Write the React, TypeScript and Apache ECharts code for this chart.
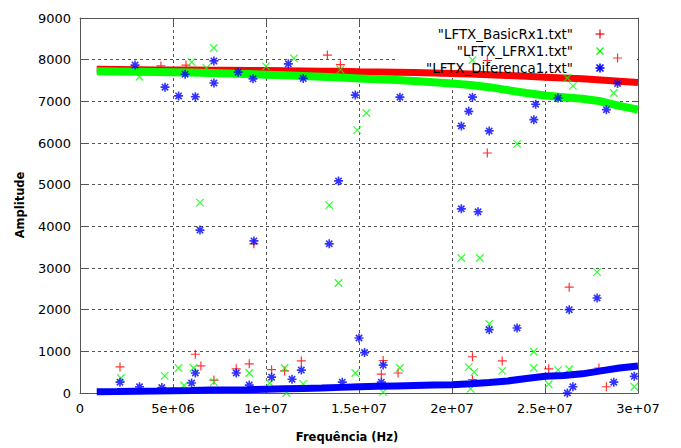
import React, { useEffect, useRef } from "react";
import * as echarts from "echarts";

// ---- data ----
const bandFreqs = [
  0.9e6, 2e6, 3e6, 4e6, 5e6, 6e6, 7e6, 8e6, 9e6, 10e6,
  11e6, 12e6, 13e6, 14e6, 15e6, 16e6, 17e6, 18e6, 19e6, 20e6,
  21e6, 22e6, 23e6, 24e6, 25e6, 26e6, 27e6, 28e6, 29e6, 30e6,
];
const redBand = [
  7770, 7765, 7760, 7755, 7750, 7750, 7745, 7745, 7740, 7740,
  7735, 7730, 7725, 7720, 7710, 7705, 7700, 7690, 7680, 7670,
  7655, 7640, 7620, 7600, 7580, 7560, 7540, 7510, 7480, 7450,
];
const greenBand = [
  7720, 7715, 7710, 7705, 7700, 7690, 7680, 7670, 7655, 7640,
  7625, 7610, 7590, 7570, 7550, 7530, 7510, 7490, 7460, 7430,
  7390, 7340, 7270, 7200, 7140, 7100, 7060, 7000, 6890, 6800,
];
const blueBand = [
  30, 35, 40, 45, 55, 60, 70, 75, 80, 90,
  100, 110, 120, 135, 150, 160, 170, 180, 190, 200,
  220, 250, 290, 350, 400, 420, 460, 530, 600, 650,
];

const redOutliers = [
  [2.15e6, 625], [4.35e6, 7850], [5.7e6, 7870], [6.2e6, 930], [6.5e6, 650],
  [7.2e6, 310], [8.4e6, 580], [9.1e6, 700], [9.35e6, 3580], [1.03e7, 560],
  [1.1e7, 530], [1.19e7, 770], [1.33e7, 8110], [1.4e7, 7880], [1.62e7, 455],
  [1.63e7, 780], [1.71e7, 480], [2.11e7, 870], [2.11e7, 320], [2.19e7, 7980],
  [2.19e7, 5760], [2.27e7, 770], [2.52e7, 580], [2.63e7, 2540], [2.79e7, 600],
  [2.83e7, 150], [2.89e7, 8040],
];
const greenOutliers = [
  [2.2e6, 360], [3.2e6, 7590], [4.55e6, 410], [5.3e6, 600], [5.6e6, 180],
  [6.0e6, 7940], [6.1e6, 600], [6.45e6, 4570], [6.8e6, 7800], [7.2e6, 8280],
  [7.2e6, 260], [9.1e6, 480], [1.0e7, 7840], [1.02e7, 240], [1.1e7, 600],
  [1.11e7, 0], [1.15e7, 8030], [1.2e7, 220], [1.34e7, 4510], [1.39e7, 2640],
  [1.4e7, 7760], [1.48e7, 480], [1.49e7, 6310], [1.54e7, 6720], [1.63e7, 20],
  [1.72e7, 600], [2.05e7, 3240], [2.09e7, 620], [2.1e7, 100], [2.11e7, 7990],
  [2.12e7, 500], [2.15e7, 3240], [2.2e7, 1660], [2.27e7, 530], [2.35e7, 5980],
  [2.44e7, 990], [2.44e7, 600], [2.52e7, 210], [2.57e7, 550], [2.62e7, 7560],
  [2.63e7, 570], [2.65e7, 7370], [2.78e7, 2900], [2.87e7, 7200], [2.98e7, 150],
];
const blueOutliers = [
  [2.15e6, 260], [2.96e6, 7870], [3.2e6, 150], [4.4e6, 130], [4.57e6, 7340],
  [5.3e6, 7130], [5.65e6, 7650], [6.0e6, 240], [6.2e6, 480], [6.2e6, 7110],
  [6.45e6, 3910], [7.2e6, 7970], [7.2e6, 7440], [8.4e6, 480], [8.5e6, 7700],
  [9.1e6, 190], [9.3e6, 7540], [9.35e6, 3650], [1.03e7, 380], [1.12e7, 7900],
  [1.14e7, 330], [1.19e7, 550], [1.2e7, 7550], [1.34e7, 3580], [1.39e7, 5090],
  [1.41e7, 260], [1.48e7, 7150], [1.5e7, 1320], [1.53e7, 970], [1.62e7, 260],
  [1.63e7, 670], [1.72e7, 7100], [2.05e7, 6410], [2.05e7, 4420], [2.09e7, 6760],
  [2.11e7, 7100], [2.14e7, 4350], [2.2e7, 6290], [2.2e7, 1520], [2.35e7, 1560],
  [2.44e7, 6560], [2.45e7, 6930], [2.57e7, 7080], [2.62e7, 0], [2.63e7, 2000],
  [2.65e7, 150], [2.78e7, 2280], [2.83e7, 6800], [2.87e7, 260], [2.89e7, 7430],
  [2.98e7, 400],
];

const xTickLabels = ["0", "5e+06", "1e+07", "1.5e+07", "2e+07", "2.5e+07", "3e+07"];
const yTickLabels = ["0", "1000", "2000", "3000", "4000", "5000", "6000", "7000", "8000", "9000"];
const seriesNames = ['"LFTX_BasicRx1.txt"', '"LFTX_LFRX1.txt"', '"LFTX_Diferenca1.txt"'];

// ---- styling ----
const RED = "#ff0000";
const GREEN = "#00ff00";
const BLUE = "#0000ff";
const FONT = "DejaVu Sans";
const plusPath = "path://M0,5L10,5M5,0L5,10";
const crossPath = "path://M0,0L10,10M10,0L0,10";
const starPath = "path://M0,5L10,5M5,0L5,10M1.5,1.5L8.5,8.5M8.5,1.5L1.5,8.5";

const zip = (xs: number[], ys: number[]) => xs.map((x, i) => [x, ys[i]]);

function markerGraphic(kind: string, cx: number, cy: number, color: string) {
  const h = 4.5;
  const d = 3.5;
  const lines: number[][] = [];
  if (kind === "plus" || kind === "star") {
    lines.push([cx - h, cy, cx + h, cy], [cx, cy - h, cx, cy + h]);
  }
  if (kind === "cross" || kind === "star") {
    lines.push([cx - d, cy - d, cx + d, cy + d], [cx + d, cy - d, cx - d, cy + d]);
  }
  return {
    type: "group",
    z: 10,
    children: lines.map((l) => ({
      type: "line",
      z: 10,
      shape: { x1: l[0], y1: l[1], x2: l[2], y2: l[3] },
      style: { stroke: color, lineWidth: kind === "star" ? 1.6 : 1.2 },
    })),
  };
}

function legendText(text: string, y: number) {
  return {
    type: "text",
    z: 10,
    x: 573,
    y,
    style: {
      text,
      fill: "#000",
      font: `13.4px "${FONT}"`,
      fontSize: 13.4,
      fontFamily: FONT,
      textAlign: "right",
      textVerticalAlign: "middle",
      align: "right",
      verticalAlign: "middle",
    },
  };
}

export default function App() {
  const ref = useRef<HTMLDivElement>(null);

  useEffect(() => {
    if (!ref.current) return;
    const chart = echarts.init(ref.current, undefined, { renderer: "svg" });
    const axisColor = "#555";
    const gridLine = { show: true, lineStyle: { color: "#555", width: 1, type: [3, 3] as any } };

    const option: any = {
      animation: false,
      backgroundColor: "#fff",
      grid: { left: 80, right: 43, top: 18, bottom: 55, containLabel: false },
      xAxis: [
        {
          type: "value",
          position: "bottom",
          min: 0,
          max: 3e7,
          interval: 5e6,
          axisLine: { show: true, onZero: false, lineStyle: { color: axisColor } },
          axisTick: { show: true, inside: true, length: 6, lineStyle: { color: axisColor } },
          axisLabel: {
            color: "#000",
            fontFamily: FONT,
            fontSize: 13,
            margin: 9,
            formatter: (v: number) => xTickLabels[Math.round(v / 5e6)] ?? "",
          },
          splitLine: gridLine,
        },
        {
          type: "value",
          position: "top",
          min: 0,
          max: 3e7,
          interval: 5e6,
          axisLine: { show: true, onZero: false, lineStyle: { color: axisColor } },
          axisTick: { show: true, inside: true, length: 6, lineStyle: { color: axisColor } },
          axisLabel: { show: false },
          splitLine: { show: false },
        },
      ],
      yAxis: [
        {
          type: "value",
          position: "left",
          min: 0,
          max: 9000,
          interval: 1000,
          axisLine: { show: true, onZero: false, lineStyle: { color: axisColor } },
          axisTick: { show: true, inside: true, length: 6, lineStyle: { color: axisColor } },
          axisLabel: {
            color: "#000",
            fontFamily: FONT,
            fontSize: 13,
            margin: 9,
            formatter: (v: number) => yTickLabels[Math.round(v / 1000)] ?? "",
          },
          splitLine: gridLine,
        },
        {
          type: "value",
          position: "right",
          min: 0,
          max: 9000,
          interval: 1000,
          axisLine: { show: true, onZero: false, lineStyle: { color: axisColor } },
          axisTick: { show: true, inside: true, length: 6, lineStyle: { color: axisColor } },
          axisLabel: { show: false },
          splitLine: { show: false },
        },
      ],
      graphic: [
        // key area clears the grid lines
        { type: "rect", z: 1, shape: { x: 398, y: 19, width: 239, height: 50 }, style: { fill: "#fff" } },
        legendText(seriesNames[0], 34),
        legendText(seriesNames[1], 51),
        legendText(seriesNames[2], 68),
        markerGraphic("plus", 600, 34, RED),
        markerGraphic("cross", 600, 51, GREEN),
        markerGraphic("star", 600, 68, BLUE),
        {
          type: "text",
          z: 10,
          x: 347,
          y: 437,
          style: {
            text: "Frequência (Hz)",
            fill: "#000",
            font: `bold 11.5px "${FONT}"`,
            fontSize: 11.5,
            fontWeight: "bold",
            fontFamily: FONT,
            textAlign: "center",
            textVerticalAlign: "middle",
            align: "center",
            verticalAlign: "middle",
          },
        },
        {
          type: "text",
          z: 10,
          x: 20,
          y: 205,
          rotation: Math.PI / 2,
          style: {
            text: "Amplitude",
            fill: "#000",
            font: `bold 11.5px "${FONT}"`,
            fontSize: 11.5,
            fontWeight: "bold",
            fontFamily: FONT,
            textAlign: "center",
            textVerticalAlign: "middle",
            align: "center",
            verticalAlign: "middle",
          },
        },
      ],
      series: [
        {
          name: seriesNames[0] + " band",
          type: "line",
          z: 2,
          data: zip(bandFreqs, redBand),
          symbol: "none",
          showSymbol: false,
          silent: true,
          lineStyle: { color: RED, width: 7, cap: "butt" },
        },
        {
          name: seriesNames[0],
          type: "scatter",
          z: 3,
          data: redOutliers,
          symbol: plusPath,
          symbolSize: 9,
          itemStyle: { color: RED, borderColor: RED, borderWidth: 1.2 },
        },
        {
          name: seriesNames[1] + " band",
          type: "line",
          z: 4,
          data: zip(bandFreqs, greenBand),
          symbol: "none",
          showSymbol: false,
          silent: true,
          lineStyle: { color: GREEN, width: 8, cap: "butt" },
        },
        {
          name: seriesNames[1],
          type: "scatter",
          z: 5,
          data: greenOutliers,
          symbol: crossPath,
          symbolSize: 7.5,
          itemStyle: { color: GREEN, borderColor: GREEN, borderWidth: 1.2 },
        },
        {
          name: seriesNames[2] + " band",
          type: "line",
          z: 6,
          data: zip(bandFreqs, blueBand),
          symbol: "none",
          showSymbol: false,
          silent: true,
          lineStyle: { color: BLUE, width: 7, cap: "butt" },
        },
        {
          name: seriesNames[2],
          type: "scatter",
          z: 7,
          data: blueOutliers,
          symbol: starPath,
          symbolSize: 9,
          itemStyle: { color: BLUE, borderColor: BLUE, borderWidth: 1.6 },
        },
      ],
    };
    chart.setOption(option);
    return () => chart.dispose();
  }, []);

  return <div ref={ref} style={{ width: 681, height: 448, position: "absolute", left: 0, top: 0 }} />;
}
